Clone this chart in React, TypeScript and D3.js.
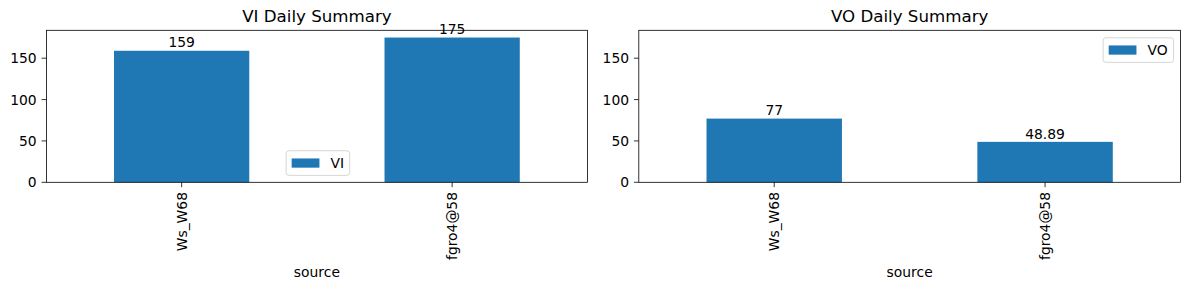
import React from "react";
import * as d3 from "d3";

const categories = ["Ws_W68", "fgro4@58"];
const viValues = [159, 175];
const voValues = [77, 48.89];
const yTicks = [0, 50, 100, 150];
const titles = ["VI Daily Summary", "VO Daily Summary"];
const seriesNames = ["VI", "VO"];
const xLabel = "source";

const W = 1189;
const H = 290;
const FONT = "DejaVu Sans, sans-serif";
const FS = 13.89;
const TITLE_FS = 16.67;
const BLUE = "#1f77b4";
const TOP = 30.3;
const BOTTOM = 182.3;
const TICK = 4.86;

const yMax = d3.max([...viValues, ...voValues])! * 1.05;
const y = d3.scaleLinear().domain([0, yMax]).range([BOTTOM, TOP]);

type PanelProps = {
  x0: number;
  x1: number;
  values: number[];
  title: string;
  name: string;
  legendPos: "lowerCenter" | "upperRight";
};

function textWidth(s: string) {
  // approximate DejaVu Sans widths (em)
  const w: Record<string, number> = { V: 0.684, I: 0.295, O: 0.787 };
  let t = 0;
  for (const c of s) t += w[c] ?? 0.6;
  return t * FS;
}

function Panel({ x0, x1, values, title, name, legendPos }: PanelProps) {
  const x = d3
    .scaleBand<string>()
    .domain(categories)
    .range([x0, x1])
    .paddingInner(0.5)
    .paddingOuter(0.25);
  const cx = (x0 + x1) / 2;

  const pad = 0.4 * FS;
  const handleLen = 2.0 * FS;
  const handlePad = 0.8 * FS;
  const tw = textWidth(name);
  const lw = pad + handleLen + handlePad + tw + pad;
  const lh = 24.6;
  const axPad = 0.5 * FS;
  let lx: number, ly: number;
  if (legendPos === "lowerCenter") {
    lx = cx - lw / 2 + 1;
    ly = BOTTOM - axPad - lh;
  } else {
    lx = x1 - axPad - lw;
    ly = TOP + axPad + 0.5;
  }
  const fmt = (v: number) => String(v);

  return (
    <g>
      <text
        x={cx}
        y={TOP - 8.33}
        textAnchor="middle"
        fontSize={TITLE_FS}
        fontFamily={FONT}
        fill="#000"
      >
        {title}
      </text>
      {categories.map((c, i) => (
        <rect
          key={c}
          x={x(c)}
          y={y(values[i])}
          width={x.bandwidth()}
          height={y(0) - y(values[i])}
          fill={BLUE}
        />
      ))}
      {categories.map((c, i) => (
        <text
          key={"l" + c}
          x={x(c)! + x.bandwidth() / 2}
          y={y(values[i]) - 3.3}
          textAnchor="middle"
          fontSize={FS}
          fontFamily={FONT}
          fill="#000"
        >
          {fmt(values[i])}
        </text>
      ))}
      <rect
        x={x0}
        y={TOP}
        width={x1 - x0}
        height={BOTTOM - TOP}
        fill="none"
        stroke="#000"
        strokeWidth={0.8}
      />
      {yTicks.map((t) => (
        <g key={t}>
          <line
            x1={x0 - TICK}
            x2={x0}
            y1={y(t)}
            y2={y(t)}
            stroke="#000"
            strokeWidth={0.8}
          />
          <text
            x={x0 - TICK - 4.86}
            y={y(t)}
            dy="0.36em"
            textAnchor="end"
            fontSize={FS}
            fontFamily={FONT}
            fill="#000"
          >
            {t}
          </text>
        </g>
      ))}
      {categories.map((c) => {
        const tx = x(c)! + x.bandwidth() / 2;
        const ty = BOTTOM + TICK + 4.86;
        return (
          <g key={"t" + c}>
            <line
              x1={tx}
              x2={tx}
              y1={BOTTOM}
              y2={BOTTOM + TICK}
              stroke="#000"
              strokeWidth={0.8}
            />
            <text
              transform={`translate(${tx},${ty}) rotate(-90)`}
              dy="0.36em"
              textAnchor="end"
              fontSize={FS}
              fontFamily={FONT}
              fill="#000"
            >
              {c}
            </text>
          </g>
        );
      })}
      <text
        x={cx}
        y={276.5}
        textAnchor="middle"
        fontSize={FS}
        fontFamily={FONT}
        fill="#000"
      >
        {xLabel}
      </text>
      <g>
        <rect
          x={lx}
          y={ly}
          width={lw}
          height={lh}
          rx={2.8}
          fill="#fff"
          fillOpacity={0.8}
          stroke="#ccc"
          strokeWidth={0.8}
        />
        <rect
          x={lx + pad}
          y={ly + lh / 2 - 4.9 + 0.3}
          width={handleLen}
          height={9.2}
          fill={BLUE}
        />
        <text
          x={lx + pad + handleLen + handlePad}
          y={ly + lh / 2 + 0.3}
          dy="0.36em"
          fontSize={FS}
          fontFamily={FONT}
          fill="#000"
        >
          {name}
        </text>
      </g>
    </g>
  );
}

export default function App() {
  return (
    <svg
      width={W}
      height={H}
      style={{ position: "absolute", left: 0, top: 0, background: "#fff" }}
    >
      <rect x={0} y={0} width={W} height={H} fill="#fff" />
      <Panel
        x0={46.4}
        x1={587.4}
        values={viValues}
        title={titles[0]}
        name={seriesNames[0]}
        legendPos="lowerCenter"
      />
      <Panel
        x0={638.8}
        x1={1180.5}
        values={voValues}
        title={titles[1]}
        name={seriesNames[1]}
        legendPos="upperRight"
      />
    </svg>
  );
}
